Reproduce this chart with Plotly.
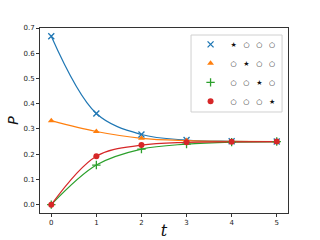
import plotly.graph_objects as go

t = [0, 1, 2, 3, 4, 5]
p_blue = [0.667, 0.361, 0.278, 0.256, 0.251, 0.250]
p_orange = [0.333, 0.290, 0.263, 0.254, 0.251, 0.250]
p_green = [0.000, 0.157, 0.220, 0.240, 0.248, 0.250]
p_red = [0.000, 0.192, 0.236, 0.247, 0.249, 0.250]

labels = ["★   ○   ○   ○", "○   ★   ○   ○", "○   ○   ★   ○", "○   ○   ○   ★"]
colors = ["#1f77b4", "#ff7f0e", "#2ca02c", "#d62728"]
symbols = ["x-thin", "triangle-up", "cross-thin", "circle"]
sizes = [6, 6, 6, 6]
series = [p_blue, p_orange, p_green, p_red]

fig = go.Figure()
for ys, c in zip(series, colors):
    fig.add_trace(go.Scatter(x=t, y=ys, mode="lines", line=dict(color=c, width=1.2, shape="spline", smoothing=1.0),
                             showlegend=False, hoverinfo="skip"))
for i, (ys, c, s, sz, lab) in enumerate(zip(series, colors, symbols, sizes, labels)):
    thin = s.endswith("thin")
    fig.add_trace(go.Scatter(x=t, y=ys, mode="markers", name=lab, legendgroup=str(i),
                             marker=dict(color=c, symbol=s, size=sz,
                                         line=dict(color=c, width=1.3 if thin else 0))))

axis_common = dict(showgrid=False, zeroline=False, showline=True, mirror=True, automargin=False,
                   linecolor="#333333", linewidth=1, ticks="outside", ticklen=3,
                   tickcolor="#333333", tickwidth=1, tickfont=dict(family="DejaVu Sans", size=7, color="#222"))
fig.update_xaxes(range=[-0.25, 5.25], tickvals=[0, 1, 2, 3, 4, 5],
                 title=dict(text="<i>t</i>", font=dict(family="DejaVu Serif", size=16, color="#111"), standoff=2),
                 **axis_common)
fig.update_yaxes(range=[-0.033, 0.7], tickvals=[0, 0.1, 0.2, 0.3, 0.4, 0.5, 0.6, 0.7], tickformat=".1f",
                 title=dict(text="<i>P</i>", font=dict(family="DejaVu Sans", size=14, color="#111"), standoff=1),
                 **axis_common)

# legend frame drawn as a shape so its box matches the reference size
fig.add_shape(type="rect", xref="paper", yref="paper", x0=0.609, x1=0.976, y0=0.546, y1=0.962,
              line=dict(color="#d0d0d0", width=1), fillcolor="white", layer="above")

fig.update_layout(
    width=320, height=240, margin=dict(l=40, r=32, t=28, b=27),
    paper_bgcolor="white", plot_bgcolor="white",
    legend=dict(x=0.97, y=0.99, xanchor="right", yanchor="top", bgcolor="rgba(0,0,0,0)",
                borderwidth=0, font=dict(family="DejaVu Sans", size=7, color="#111"),
                tracegroupgap=0, traceorder="grouped"),
)
fig.write_html("out.html", config={"displayModeBar": False},
               post_script="document.body.style.margin='0';")
